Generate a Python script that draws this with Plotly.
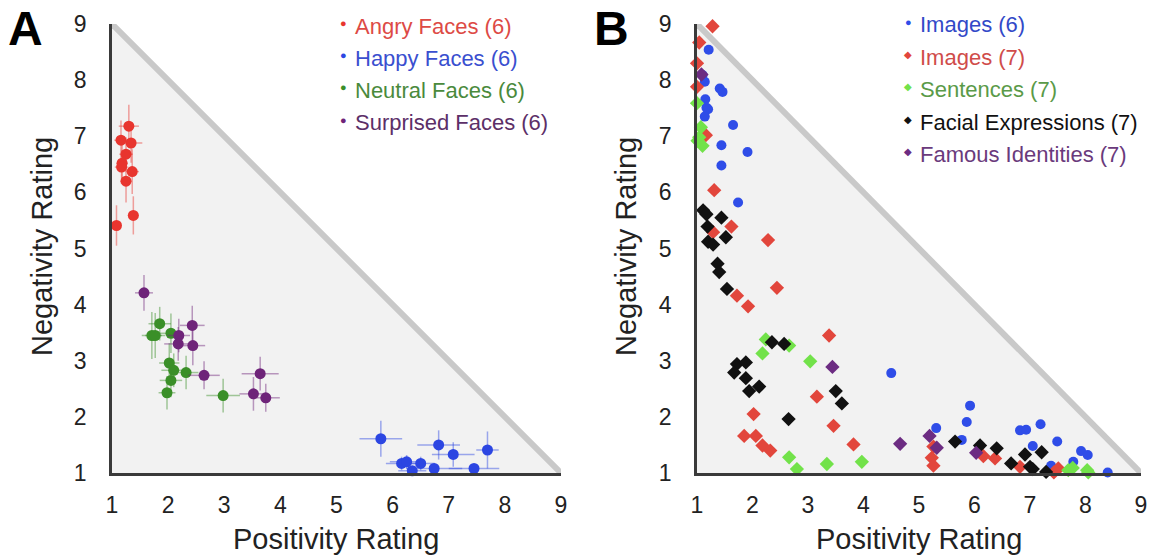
import plotly.graph_objects as go

W, H = 1163, 560

# ---------------- Panel A data ----------------
angry_x = [1.30, 1.16, 1.34, 1.25, 1.18, 1.17, 1.36, 1.25, 1.38, 1.08]
angry_y = [7.18, 6.93, 6.88, 6.68, 6.52, 6.45, 6.37, 6.20, 5.59, 5.41]
angry_ex = [0.18, 0.12, 0.20, 0.12, 0.10, 0.12, 0.12, 0.10, 0.10, 0.08]
angry_ey = [0.38, 0.35, 0.35, 0.30, 0.35, 0.30, 0.40, 0.38, 0.34, 0.36]

happy_x = [5.79, 6.82, 7.08, 7.69, 6.16, 6.25, 6.35, 6.50, 6.74, 7.45]
happy_y = [1.61, 1.50, 1.33, 1.41, 1.17, 1.20, 1.04, 1.17, 1.08, 1.08]
happy_ex = [0.38, 0.38, 0.38, 0.20, 0.28, 0.30, 0.25, 0.25, 0.50, 0.45]
happy_ey = [0.32, 0.26, 0.22, 0.33, 0.12, 0.12, 0.08, 0.12, 0.08, 0.08]

neutral_x = [1.85, 1.71, 1.77, 2.05, 2.02, 2.10, 2.32, 2.05, 1.98, 2.98]
neutral_y = [3.66, 3.45, 3.45, 3.49, 2.96, 2.83, 2.79, 2.65, 2.43, 2.38]
neutral_ex = [0.20, 0.18, 0.18, 0.20, 0.18, 0.22, 0.22, 0.20, 0.15, 0.30]
neutral_ey = [0.30, 0.42, 0.40, 0.35, 0.35, 0.30, 0.30, 0.30, 0.30, 0.30]

surprised_x = [1.57, 2.43, 2.19, 2.18, 2.44, 2.64, 3.64, 3.52, 3.74]
surprised_y = [4.21, 3.63, 3.45, 3.30, 3.27, 2.74, 2.77, 2.41, 2.34]
surprised_ex = [0.16, 0.22, 0.20, 0.25, 0.22, 0.28, 0.33, 0.25, 0.25]
surprised_ey = [0.32, 0.35, 0.30, 0.30, 0.35, 0.25, 0.30, 0.30, 0.25]

# ---------------- Panel B data ----------------
img6_x = [1.21, 1.10, 1.14, 1.41, 1.46, 1.15, 1.17, 1.20, 1.14, 1.65, 1.44, 1.91, 1.44,
          1.74, 4.50, 5.92, 5.86, 5.31, 5.77, 6.82, 6.93, 7.19, 7.05, 7.49, 7.92, 8.04,
          7.78, 7.38, 8.40]
img6_y = [8.54, 8.09, 7.97, 7.85, 7.79, 7.66, 7.51, 7.48, 7.35, 7.20, 6.84, 6.72, 6.48,
          5.82, 2.78, 2.20, 1.91, 1.80, 1.59, 1.76, 1.77, 1.87, 1.48, 1.56, 1.39, 1.32,
          1.20, 1.13, 1.01]

img7_x = [1.28, 1.04, 1.00, 1.00, 1.16, 1.31, 1.62, 1.29, 2.28, 2.44, 1.72, 1.92, 3.38,
          3.16, 2.02, 3.46, 1.85, 2.06, 2.18, 2.32, 3.82, 5.26, 5.23, 5.26, 6.16, 6.37,
          6.82, 7.43, 7.51]
img7_y = [8.96, 8.67, 8.30, 7.88, 7.02, 6.04, 5.39, 5.29, 5.15, 4.30, 4.16, 3.97, 3.45,
          2.36, 2.05, 1.84, 1.66, 1.66, 1.49, 1.40, 1.51, 1.47, 1.27, 1.13, 1.30, 1.26,
          1.11, 1.01, 1.08]

sent_x = [1.00, 1.07, 1.04, 1.01, 1.10, 2.24, 2.66, 2.18, 3.04, 2.66, 2.80, 3.34, 3.97,
          7.69, 7.77, 8.03, 8.05]
sent_y = [7.59, 7.16, 6.98, 6.92, 6.83, 3.38, 3.27, 3.13, 2.99, 1.28, 1.07, 1.16, 1.20,
          1.05, 1.09, 1.05, 1.01]

face_x = [1.11, 1.17, 1.44, 1.19, 1.52, 1.20, 1.29, 1.37, 1.40, 1.54, 2.35, 2.57, 1.72,
          1.88, 1.67, 1.88, 2.12, 1.94, 3.50, 3.61, 2.65, 5.65, 6.10, 6.40, 6.91, 7.21,
          6.66, 7.00, 7.05, 7.29]
face_y = [5.68, 5.61, 5.55, 5.39, 5.20, 5.12, 5.07, 4.73, 4.58, 4.28, 3.33, 3.30, 2.94,
          2.97, 2.79, 2.69, 2.54, 2.46, 2.46, 2.24, 1.96, 1.56, 1.49, 1.44, 1.33, 1.37,
          1.17, 1.11, 1.07, 1.02]

fam_x = [1.08, 3.44, 4.66, 5.19, 5.32, 6.03]
fam_y = [8.10, 2.89, 1.52, 1.66, 1.45, 1.36]

tick_vals = [1, 2, 3, 4, 5, 6, 7, 8, 9]
tick_text = ["1", "2", "3", "4", "5", "6", "7", "8", "9"]

FONT = "Liberation Sans, Arial, sans-serif"

fig = go.Figure()


def rgba(hexc, a):
    h = hexc.lstrip("#")
    return "rgba(%d,%d,%d,%.2f)" % (int(h[0:2], 16), int(h[2:4], 16), int(h[4:6], 16), a)


panelA = [
    ("Angry Faces (6)", angry_x, angry_y, angry_ex, angry_ey, "#e8352e"),
    ("Happy Faces (6)", happy_x, happy_y, happy_ex, happy_ey, "#2c46e2"),
    ("Neutral Faces (6)", neutral_x, neutral_y, neutral_ex, neutral_ey, "#3a8f28"),
    ("Surprised Faces (6)", surprised_x, surprised_y, surprised_ex, surprised_ey, "#6e2479"),
]
for name, xs, ys, ex, ey, c in panelA:
    fig.add_trace(go.Scatter(
        x=xs, y=ys, mode="markers", name=name, xaxis="x", yaxis="y",
        marker=dict(color=c, size=11, symbol="circle"),
        error_x=dict(type="data", array=ex, color=rgba(c, 0.45), thickness=1.5, width=0),
        error_y=dict(type="data", array=ey, color=rgba(c, 0.45), thickness=1.5, width=0),
        cliponaxis=False, showlegend=False,
    ))

panelB = [
    ("Images (6)", img6_x, img6_y, "#2f4de8", "circle", 10),
    ("Images (7)", img7_x, img7_y, "#e2463c", "diamond", 11),
    ("Sentences (7)", sent_x, sent_y, "#72e24a", "diamond", 11),
    ("Facial Expressions (7)", face_x, face_y, "#111111", "diamond", 11),
    ("Famous Identities (7)", fam_x, fam_y, "#6c2c82", "diamond", 11),
]
for name, xs, ys, c, sym, sz in panelB:
    fig.add_trace(go.Scatter(
        x=xs, y=ys, mode="markers", name=name, xaxis="x2", yaxis="y2",
        marker=dict(color=c, size=sz, symbol=sym),
        cliponaxis=False, showlegend=False,
    ))

# background triangles and diagonal lines
shapes = []
for xr, yr in [("x", "y"), ("x2", "y2")]:
    shapes.append(dict(type="path", xref=xr, yref=yr, path="M 1 9 L 9 1 L 1 1 Z",
                       fillcolor="#f2f2f2", line=dict(width=0), layer="below"))
    shapes.append(dict(type="line", xref=xr, yref=yr, x0=1, y0=9, x1=9, y1=1,
                       line=dict(color="#c9c9c9", width=6), layer="below"))

ax_common = dict(range=[1, 9], tickvals=tick_vals, ticktext=tick_text, showgrid=False,
                 zeroline=False, showline=True, linecolor="#3a3a3a", linewidth=2.5,
                 ticks="", tickfont=dict(family=FONT, size=23, color="#222"),
                 fixedrange=True, automargin=False, title=dict(text=""))

yb = (H - 473) / H
yt = (H - 24) / H

fig.update_layout(
    width=W, height=H, margin=dict(l=0, r=0, t=0, b=0, autoexpand=False),
    plot_bgcolor="white", paper_bgcolor="white",
    shapes=shapes,
    xaxis=dict(domain=[112 / W, 561 / W], anchor="y", ticklabelstandoff=10, **ax_common),
    yaxis=dict(domain=[yb, yt], anchor="x", ticklabelstandoff=18, **ax_common),
    xaxis2=dict(domain=[697 / W, 1141 / W], anchor="y2", ticklabelstandoff=10, **ax_common),
    yaxis2=dict(domain=[yb, yt], anchor="x2", ticklabelstandoff=18, **ax_common),
)

ann = []
# panel letters
ann.append(dict(text="<b>A</b>", x=25 / W, y=1 - 28 / H, xref="paper", yref="paper",
                showarrow=False, font=dict(family=FONT, size=48, color="black"),
                xanchor="center", yanchor="middle"))
ann.append(dict(text="<b>B</b>", x=611 / W, y=1 - 28 / H, xref="paper", yref="paper",
                showarrow=False, font=dict(family=FONT, size=48, color="black"),
                xanchor="center", yanchor="middle"))

# axis titles
for cx in (336, 919):
    ann.append(dict(text="Positivity Rating", x=cx / W, y=1 - 539 / H, xref="paper",
                    yref="paper", showarrow=False,
                    font=dict(family=FONT, size=29, color="#222"),
                    xanchor="center", yanchor="middle"))
for cx in (42, 626):
    ann.append(dict(text="Negativity Rating", x=cx / W, y=1 - 247 / H, xref="paper",
                    yref="paper", showarrow=False, textangle=-90,
                    font=dict(family=FONT, size=29, color="#222"),
                    xanchor="center", yanchor="middle"))

legA = [("Angry Faces (6)", "#e8352e", "#dd4a45"),
        ("Happy Faces (6)", "#2c46e2", "#3a4fcf"),
        ("Neutral Faces (6)", "#3a8f28", "#4a8a3c"),
        ("Surprised Faces (6)", "#6e2479", "#5c2f68")]
for i, (t, mc, tc) in enumerate(legA):
    yy = 26 + i * 32.2
    ann.append(dict(text="●", x=343 / W, y=1 - (yy - 3) / H, xref="paper", yref="paper",
                    showarrow=False, font=dict(family=FONT, size=11, color=mc),
                    xanchor="center", yanchor="middle"))
    ann.append(dict(text=t, x=353 / W, y=1 - yy / H, xref="paper", yref="paper",
                    showarrow=False, font=dict(family=FONT, size=22, color=tc),
                    xanchor="left", yanchor="middle"))

legB = [("Images (6)", "●", "#2f4de8", "#3249c8", 11),
        ("Images (7)", "◆", "#e2463c", "#d04c4a", 10),
        ("Sentences (7)", "◆", "#72e24a", "#5a9a48", 10),
        ("Facial Expressions (7)", "◆", "#111111", "#111111", 10),
        ("Famous Identities (7)", "◆", "#6c2c82", "#6a3a7c", 10)]
for i, (t, sym, mc, tc, fs) in enumerate(legB):
    yy = 25 + i * 32.4
    ann.append(dict(text=sym, x=908 / W, y=1 - (yy - 3) / H, xref="paper", yref="paper",
                    showarrow=False, font=dict(family=FONT, size=fs, color=mc),
                    xanchor="center", yanchor="middle"))
    ann.append(dict(text=t, x=918 / W, y=1 - yy / H, xref="paper", yref="paper",
                    showarrow=False, font=dict(family=FONT, size=22, color=tc),
                    xanchor="left", yanchor="middle"))

fig.update_layout(annotations=ann)

fig.write_html("out.html")
